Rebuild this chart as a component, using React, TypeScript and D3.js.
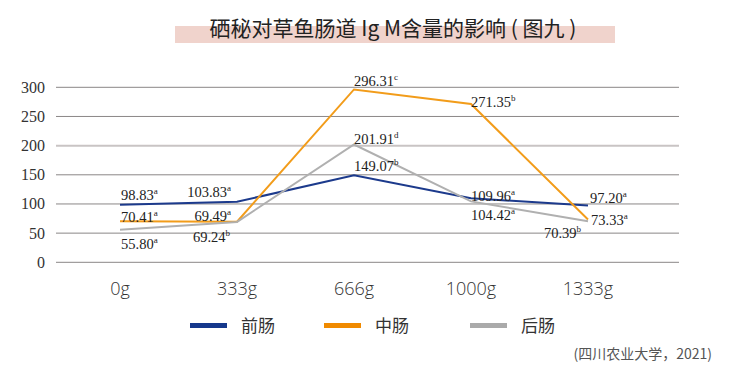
import React from "react";
import * as d3 from "d3";

const categories = ["0g", "333g", "666g", "1000g", "1333g"];
const yTicks = [0, 50, 100, 150, 200, 250, 300];

const seriesNames = ["前肠", "中肠", "后肠"];
const foregut = [98.83, 103.83, 149.07, 109.96, 97.2];
const midgut = [70.41, 69.49, 296.31, 271.35, 73.33];
const hindgut = [55.8, 69.24, 201.91, 104.42, 70.39];
const foregutSig = ["a", "a", "b", "a", "a"];
const midgutSig = ["a", "a", "c", "b", "a"];
const hindgutSig = ["a", "b", "d", "a", "b"];

const colors = ["#1c3a8c", "#f29c1a", "#b0b0b0"];
const legendColors = ["#15388c", "#f08a00", "#aaaaaa"];

// label placement per point: [dx, dy, anchor]
type Place = [number, number, "start" | "end"];
const foregutPlace: Place[] = [[1, -5, "start"], [-6, -5, "end"], [0, -4, "start"], [0, 3, "start"], [2, -3, "start"]];
const midgutPlace: Place[] = [[1, 1, "start"], [-6, -1, "end"], [0, -3, "start"], [0, 3, "start"], [3, 5, "start"]];
const hindgutPlace: Place[] = [[1, 19, "start"], [-7, 20, "end"], [0, -1, "start"], [0, 19, "start"], [-7, 17, "end"]];

const W = 747;
const H = 366;

const App = () => {
  const x = d3.scalePoint<string>().domain(categories).range([120, 588]);
  const y = d3.scaleLinear().domain([0, 300]).range([262.3, 87.3]);

  const series = [
    { name: seriesNames[0], values: foregut, sig: foregutSig, place: foregutPlace, color: colors[0] },
    { name: seriesNames[1], values: midgut, sig: midgutSig, place: midgutPlace, color: colors[1] },
    { name: seriesNames[2], values: hindgut, sig: hindgutSig, place: hindgutPlace, color: colors[2] },
  ];

  const line = d3
    .line<number>()
    .x((_, i) => x(categories[i]) as number)
    .y((d) => y(d));

  const labelFont = "'Liberation Serif', 'DejaVu Serif', serif";
  const sansFont = "'Noto Sans CJK SC', 'Noto Sans', sans-serif";

  return (
    <svg
      width={W}
      height={H}
      style={{ position: "absolute", left: 0, top: 0, background: "#fff" }}
    >
      {/* title band */}
      <rect x={175} y={26} width={440} height={17} fill="#f0d3cc" />
      <text
        x={393}
        y={36}
        textAnchor="middle"
        fontFamily={sansFont}
        fontSize={21}
        fill="#222"
      >
        硒秘对草鱼肠道 Ig M含量的影响 ( 图九 )
      </text>

      {/* grid */}
      {yTicks.map((t) => (
        <line
          key={t}
          x1={56}
          x2={679}
          y1={y(t)}
          y2={y(t)}
          stroke={t === 200 ? "#c9c4c4" : "#8a8686"}
          strokeWidth={t === 200 ? 2 : 1}
        />
      ))}
      {yTicks.map((t) => (
        <text
          key={"l" + t}
          x={45}
          y={y(t) + 5.5}
          textAnchor="end"
          fontFamily={labelFont}
          fontSize={16}
          fill="#333"
        >
          {t}
        </text>
      ))}

      {/* x labels */}
      {categories.map((c) => (
        <text
          key={c}
          x={x(c)}
          y={295}
          textAnchor="middle"
          fontFamily="'Open Sans', sans-serif"
          fontWeight={300}
          fontSize={18}
          fill="#333"
        >
          {c}
        </text>
      ))}

      {/* lines */}
      {series.map((s) => (
        <path key={s.name} d={line(s.values) || ""} fill="none" stroke={s.color} strokeWidth={2} />
      ))}

      {/* data labels */}
      {series.map((s) =>
        s.values.map((v, i) => {
          const [dx, dy, anchor] = s.place[i];
          const px = (x(categories[i]) as number) + dx;
          const py = y(v) + dy;
          return (
            <text
              key={s.name + i}
              x={px}
              y={py}
              textAnchor={anchor}
              fontFamily={labelFont}
              fontSize={14.5}
              fill="#222"
            >
              {v.toFixed(2)}
              <tspan fontSize={9} dy={-6}>
                {s.sig[i]}
              </tspan>
            </text>
          );
        })
      )}

      {/* legend */}
      {seriesNames.map((n, i) => {
        const lx = [190, 324, 470][i];
        return (
          <g key={n}>
            <rect x={lx} y={323} width={37} height={5} fill={legendColors[i]} />
            <text x={lx + 51} y={332} fontFamily={sansFont} fontSize={17} fill="#333">
              {n}
            </text>
          </g>
        );
      })}

      {/* source */}
      <text x={712} y={359} textAnchor="end" fontFamily={sansFont} fontSize={14} fill="#555">
        (四川农业大学，2021)
      </text>
    </svg>
  );
};

export default App;
